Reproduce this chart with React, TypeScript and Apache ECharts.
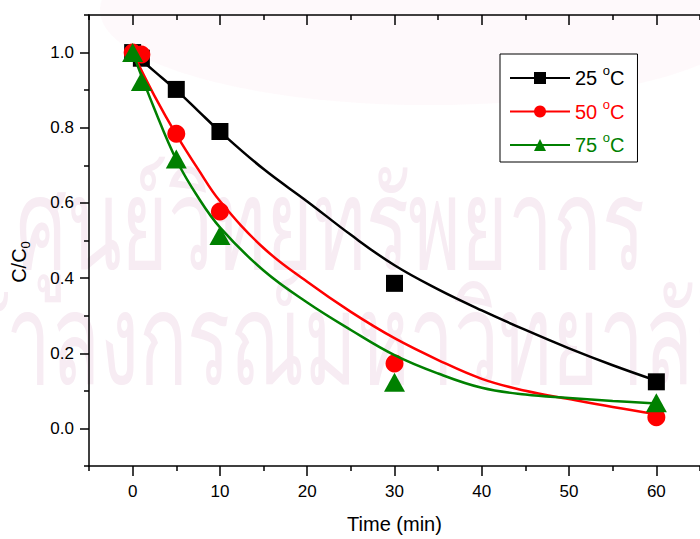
import React, { useEffect, useRef } from 'react';
import * as echarts from 'echarts';

// ---- data ----
const seriesNames = ['25 °C', '50 °C', '75 °C'];
const seriesColors = ['#000000', '#ff0000', '#008000'];
const seriesSymbols = ['rect', 'circle', 'triangle'];

const measuredTime = [0, 1, 5, 10, 30, 60];
const measured25 = [1.0, 0.985, 0.902, 0.79, 0.386, 0.124];
const measured50 = [1.0, 0.995, 0.784, 0.577, 0.173, 0.03];
const measured75 = [1.0, 0.923, 0.717, 0.513, 0.123, 0.068];

const fitTime = [0, 2.5, 5, 7.5, 10, 15, 20, 25, 30, 35, 40, 45, 50, 55, 60];
const fit25 = [1.0, 0.95, 0.9, 0.845, 0.79, 0.69, 0.604, 0.515, 0.434, 0.37, 0.314, 0.262, 0.213, 0.168, 0.127];
const fit50 = [1.0, 0.885, 0.782, 0.69, 0.605, 0.48, 0.39, 0.31, 0.24, 0.182, 0.132, 0.1, 0.078, 0.057, 0.038];
const fit75 = [1.0, 0.85, 0.715, 0.615, 0.535, 0.42, 0.335, 0.262, 0.195, 0.146, 0.108, 0.09, 0.081, 0.073, 0.066];

const xMajorTicks = [0, 10, 20, 30, 40, 50, 60];
const xMinorTicks = [-5, 5, 15, 25, 35, 45, 55, 65];
const yMajorTicks = [0, 0.2, 0.4, 0.6, 0.8, 1.0];
const yMinorTicks = [-0.1, 0.1, 0.3, 0.5, 0.7, 0.9, 1.1];

const watermarkLines = ['ศูนย์วิทยทรัพยากร', 'จุฬาลงกรณ์มหาวิทยาลัย'];

const FONT = "'Liberation Sans', Arial, sans-serif";

function zip(xs: number[], ys: number[]) {
  return xs.map((x, i) => [x, ys[i]]);
}

export default function App() {
  const ref = useRef<HTMLDivElement>(null);

  useEffect(() => {
    document.body.style.margin = '0';
    if (!ref.current) return;
    const chart = echarts.init(ref.current, undefined, { renderer: 'svg' });

    const measured = [measured25, measured50, measured75];
    const fits = [fit25, fit50, fit75];

    const axisLine = { show: true, onZero: false, lineStyle: { color: '#000', width: 1.5 } };
    const tickLine = { color: '#000', width: 1.5 };

    const xBase = { type: 'value', min: -5, max: 65, splitLine: { show: false } };
    const yBase = { type: 'value', min: -0.1, max: 1.1, splitLine: { show: false } };

    const series: any[] = [];
    seriesNames.forEach((name, i) => {
      series.push({
        name,
        type: 'line',
        data: zip(fitTime, fits[i]),
        smooth: 0.4,
        showSymbol: false,
        symbol: seriesSymbols[i],
        lineStyle: { color: seriesColors[i], width: 2.5 },
        itemStyle: { color: seriesColors[i] },
        z: 2 + i * 2,
      });
      series.push({
        name: name + ' data',
        type: 'scatter',
        data: zip(measuredTime, measured[i]),
        symbol: seriesSymbols[i],
        symbolSize: i === 0 ? 17 : i === 1 ? 18 : [21, 19],
        itemStyle: { color: seriesColors[i], opacity: 1 },
        z: 3 + i * 2,
      });
    });

    const rich: any = {};
    seriesColors.forEach((c, i) => {
      rich['n' + i] = { color: c, fontSize: 20, lineHeight: 28, fontFamily: FONT };
      rich['s' + i] = { color: c, fontSize: 13, lineHeight: 13, verticalAlign: 'top', fontFamily: FONT };
    });

    chart.setOption({
      animation: false,
      backgroundColor: '#ffffff',
      grid: { left: 89, top: 15, width: 620, height: 455, containLabel: false },
      xAxis: [
        {
          ...xBase,
          position: 'bottom',
          axisLine,
          axisTick: { show: true, customValues: xMajorTicks, length: 10, inside: false, lineStyle: tickLine },
          axisLabel: { customValues: xMajorTicks, margin: 17, fontSize: 17, color: '#000', fontFamily: FONT },
          name: 'Time (min)',
          nameLocation: 'middle',
          nameGap: 48,
          nameTextStyle: { fontSize: 20, color: '#000', fontFamily: FONT },
        },
        {
          ...xBase,
          position: 'bottom',
          axisLine: { show: false, onZero: false },
          axisTick: { show: true, customValues: xMinorTicks, length: 5, inside: false, lineStyle: tickLine },
          axisLabel: { show: false },
        },
        {
          ...xBase,
          position: 'top',
          axisLine,
          axisTick: { show: true, customValues: xMajorTicks, length: 10, inside: true, lineStyle: tickLine },
          axisLabel: { show: false },
        },
        {
          ...xBase,
          position: 'top',
          axisLine: { show: false, onZero: false },
          axisTick: { show: true, customValues: xMinorTicks, length: 5, inside: true, lineStyle: tickLine },
          axisLabel: { show: false },
        },
      ],
      yAxis: [
        {
          ...yBase,
          position: 'left',
          axisLine,
          axisTick: { show: true, customValues: yMajorTicks, length: 9, inside: false, lineStyle: tickLine },
          axisLabel: {
            customValues: yMajorTicks,
            margin: 15,
            fontSize: 17,
            color: '#000',
            fontFamily: FONT,
            formatter: (v: number) => v.toFixed(1),
          },
        },
        {
          ...yBase,
          position: 'left',
          axisLine: { show: false, onZero: false },
          axisTick: { show: true, customValues: yMinorTicks, length: 5, inside: false, lineStyle: tickLine },
          axisLabel: { show: false },
        },
      ],
      legend: {
        orient: 'vertical',
        left: 500,
        top: 54,
        padding: [10, 13, 7, 9],
        itemGap: 9.5,
        itemWidth: 60,
        itemHeight: 15,
        backgroundColor: '#ffffff',
        borderColor: '#000',
        borderWidth: 1,
        borderRadius: 0,
        data: seriesNames.map((n) => ({ name: n })),
        formatter: (name: string) => {
          const i = seriesNames.indexOf(name);
          const [num, unit] = name.split(' °');
          return `{n${i}|${num} }{s${i}|o}{n${i}|${unit}}`;
        },
        textStyle: { fontFamily: FONT, fontSize: 20, rich },
      },
      graphic: [
        {
          type: 'ellipse',
          silent: true,
          z: -10,
          shape: { cx: 430, cy: 10, rx: 330, ry: 95 },
          style: { fill: 'rgba(247, 220, 228, 0.16)' },
        },
        {
          type: 'text',
          silent: true,
          z: -9,
          x: 330,
          y: 225,
          scaleY: 1.6,
          style: {
            text: watermarkLines[0],
            fontSize: 80,
            fill: '#f7ecf3',
            align: 'center',
            verticalAlign: 'middle',
          },
        },
        {
          type: 'text',
          silent: true,
          z: -9,
          x: 322,
          y: 340,
          scaleY: 1.6,
          style: {
            text: watermarkLines[1],
            fontSize: 80,
            fill: '#f7ecf3',
            align: 'center',
            verticalAlign: 'middle',
          },
        },
        {
          type: 'text',
          x: 19,
          y: 262,
          rotation: Math.PI / 2,
          style: {
            text: '{a|C/C}{b|0}',
            align: 'center',
            verticalAlign: 'middle',
            rich: {
              a: { fontSize: 20, lineHeight: 26, fontFamily: FONT, fill: '#000' },
              b: { fontSize: 13, lineHeight: 13, verticalAlign: 'bottom', fontFamily: FONT, fill: '#000' },
            },
          },
        },
      ],
      series,
    });

    return () => chart.dispose();
  }, []);

  return <div ref={ref} style={{ width: 700, height: 539 }} />;
}
